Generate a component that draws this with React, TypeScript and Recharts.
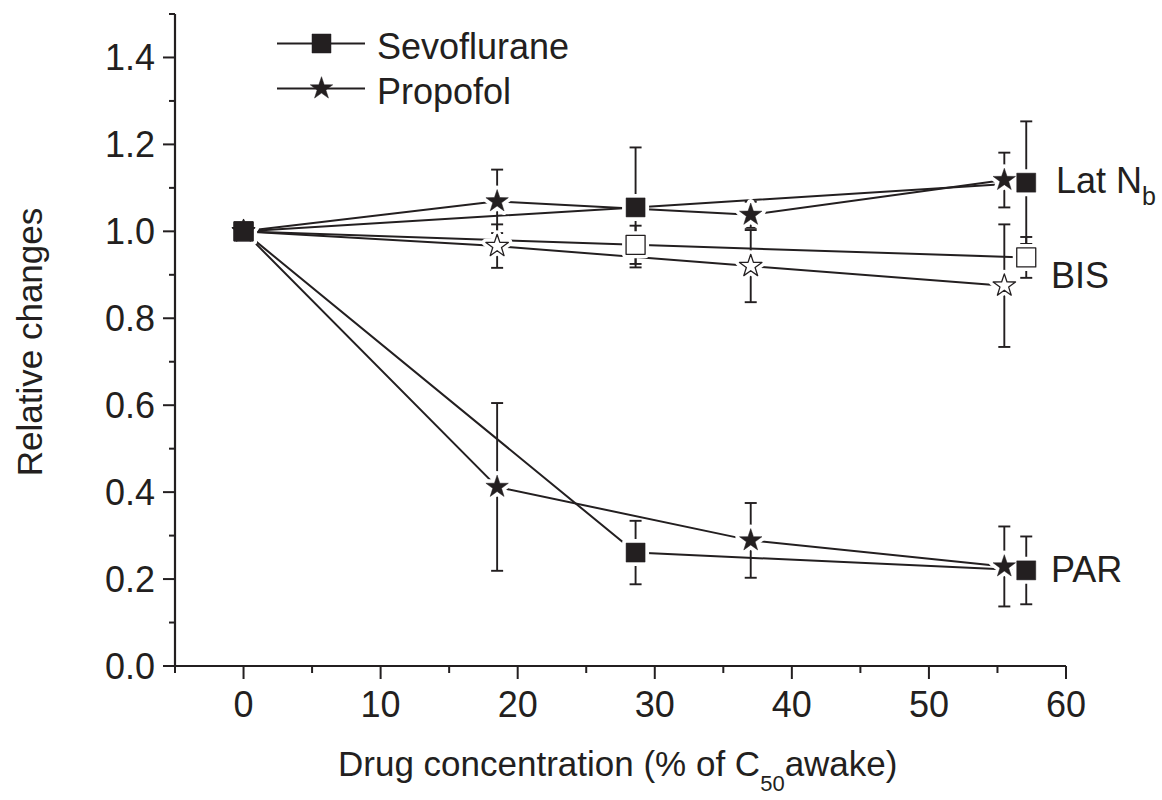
// Relative changes of Lat Nb, BIS and PAR vs drug concentration (Sevoflurane / Propofol)
import React from "react";
import { ComposedChart, Line, XAxis, YAxis, ErrorBar } from "recharts";

const INK = "#231f20";
const FONT = '"Liberation Sans", Arial, Helvetica, sans-serif';

// drug concentration, % of C50 awake
const sevoX = [0, 28.6, 57.1];
const propX = [0, 18.5, 37.0, 55.5];

// sevoflurane means and SDs
const sevoLatNb = [1.0, 1.055, 1.112];
const sevoLatNbSD = [0, 0.138, 0.141];
const sevoBIS = [1.0, 0.969, 0.94];
const sevoBISSD = [0, 0.044, 0.047];
const sevoPAR = [1.0, 0.261, 0.22];
const sevoPARSD = [0, 0.073, 0.078];

// propofol means and SDs
const propLatNb = [1.0, 1.069, 1.038, 1.118];
const propLatNbSD = [0, 0.073, 0.03, 0.063];
const propBIS = [1.0, 0.966, 0.92, 0.875];
const propBISSD = [0, 0.05, 0.083, 0.141];
const propPAR = [1.0, 0.412, 0.289, 0.229];
const propPARSD = [0, 0.193, 0.086, 0.092];

const xTicks = [-5, 0, 5, 10, 15, 20, 25, 30, 35, 40, 45, 50, 55, 60];
const yTicks = [0, 0.1, 0.2, 0.3, 0.4, 0.5, 0.6, 0.7, 0.8, 0.9, 1.0, 1.1, 1.2, 1.3, 1.4, 1.5];

const toPoints = (xs: number[], ys: number[], sd: number[]) =>
  xs.map((x, i) => ({ x, y: ys[i], sd: sd[i] }));

type Kind = "square" | "star";
interface Series {
  id: string;
  kind: Kind;
  filled: boolean;
  data: { x: number; y: number; sd: number }[];
}

const series: Series[] = [
  { id: "propLatNb", kind: "star", filled: true, data: toPoints(propX, propLatNb, propLatNbSD) },
  { id: "propBIS", kind: "star", filled: false, data: toPoints(propX, propBIS, propBISSD) },
  { id: "propPAR", kind: "star", filled: true, data: toPoints(propX, propPAR, propPARSD) },
  { id: "sevoLatNb", kind: "square", filled: true, data: toPoints(sevoX, sevoLatNb, sevoLatNbSD) },
  { id: "sevoBIS", kind: "square", filled: false, data: toPoints(sevoX, sevoBIS, sevoBISSD) },
  { id: "sevoPAR", kind: "square", filled: true, data: toPoints(sevoX, sevoPAR, sevoPARSD) },
];

const starPath = (cx: number, cy: number, R: number, r: number) => {
  let d = "";
  for (let i = 0; i < 10; i++) {
    const a = -Math.PI / 2 + (i * Math.PI) / 5;
    const rad = i % 2 === 0 ? R : r;
    d += (i ? "L" : "M") + (cx + rad * Math.cos(a)).toFixed(2) + "," + (cy + rad * Math.sin(a)).toFixed(2);
  }
  return d + "Z";
};

const Marker = ({ cx, cy, kind, filled, halo }: any) => {
  if (cx == null || cy == null) return null;
  const fill = halo ? "#fff" : filled ? INK : "#fff";
  const stroke = halo ? "#fff" : INK;
  const sw = halo ? 8 : filled ? 0.5 : 1.3;
  if (kind === "square") {
    return (
      <rect x={cx - 9.5} y={cy - 9.5} width={19} height={19} fill={fill} stroke={stroke} strokeWidth={sw} strokeLinejoin="round" />
    );
  }
  return <path d={starPath(cx, cy, 11.8, 4.6)} fill={fill} stroke={stroke} strokeWidth={sw} strokeLinejoin="round" />;
};

const XTick = (props: any) => {
  const { x, y, payload } = props;
  const v = payload.value;
  const major = v % 10 === 0;
  return (
    <g>
      <line x1={x} y1={y} x2={x} y2={y + (major ? 13 : 7)} stroke={INK} strokeWidth={2} />
      {major && (
        <text x={x} y={y + 51} textAnchor="middle" fontFamily={FONT} fontSize={36} fill={INK}>
          {v}
        </text>
      )}
    </g>
  );
};

const YTick = (props: any) => {
  const { x, y, payload } = props;
  const v = payload.value;
  const major = Math.round(v * 10) % 2 === 0;
  return (
    <g>
      <line x1={x} y1={y} x2={x - (major ? 12 : 6)} y2={y} stroke={INK} strokeWidth={2} />
      {major && (
        <text x={x - 20} y={y + 13} textAnchor="end" fontFamily={FONT} fontSize={36} fill={INK}>
          {v.toFixed(1)}
        </text>
      )}
    </g>
  );
};

const LegendRow = ({ y, kind, label }: { y: number; kind: Kind; label: string }) => (
  <g>
    <line x1={277} y1={y} x2={365} y2={y} stroke={INK} strokeWidth={2} />
    <Marker cx={321.5} cy={y} kind={kind} filled halo={false} />
    <text x={377} y={y + 15} fontFamily={FONT} fontSize={36} fill={INK}>
      {label}
    </text>
  </g>
);

export default function App() {
  return (
    <div style={{ position: "absolute", left: 0, top: 0, width: 1162, height: 800, background: "#fff" }}>
      <ComposedChart width={1162} height={800} margin={{ top: 14, right: 96, bottom: 0, left: 0 }}>
        <XAxis
          type="number"
          dataKey="x"
          domain={[-5, 60]}
          ticks={xTicks}
          interval={0}
          height={134}
          tickSize={0}
          tickMargin={0}
          tickLine={false}
          tick={<XTick />}
          axisLine={{ stroke: INK, strokeWidth: 2.2 }}
          allowDuplicatedCategory={false}
        />
        <YAxis
          type="number"
          domain={[0, 1.5]}
          ticks={yTicks}
          interval={0}
          width={175}
          tickSize={0}
          tickMargin={0}
          tickLine={false}
          tick={<YTick />}
          axisLine={{ stroke: INK, strokeWidth: 2.2 }}
        />
        {series.map((s) => (
          <Line
            key={`line-${s.id}`}
            data={s.data}
            dataKey="y"
            type="linear"
            stroke={INK}
            strokeWidth={2}
            dot={false}
            activeDot={false}
            isAnimationActive={false}
          >
            <ErrorBar dataKey="sd" width={6} stroke={INK} strokeWidth={1.9} />
          </Line>
        ))}
        {series.map((s) => (
          <Line
            key={`halo-${s.id}`}
            data={s.data}
            dataKey="y"
            stroke="none"
            activeDot={false}
            isAnimationActive={false}
            dot={(p: any) => (
              <Marker key={`h-${s.id}-${p.index}`} cx={p.cx} cy={p.cy} kind={s.kind} filled={s.filled} halo />
            )}
          />
        ))}
        {series.map((s) => (
          <Line
            key={`mark-${s.id}`}
            data={s.data}
            dataKey="y"
            stroke="none"
            activeDot={false}
            isAnimationActive={false}
            dot={(p: any) => (
              <Marker key={`m-${s.id}-${p.index}`} cx={p.cx} cy={p.cy} kind={s.kind} filled={s.filled} halo={false} />
            )}
          />
        ))}
      </ComposedChart>
      <svg
        width={1162}
        height={800}
        style={{ position: "absolute", left: 0, top: 0, pointerEvents: "none" }}
      >
        <LegendRow y={43.5} kind="square" label="Sevoflurane" />
        <LegendRow y={88.5} kind="star" label="Propofol" />
        <text x={1056} y={193} fontFamily={FONT} fontSize={36} fill={INK}>
          Lat N
          <tspan fontSize={25} dy={12}>b</tspan>
        </text>
        <text x={1051} y={288} fontFamily={FONT} fontSize={36} fill={INK}>
          BIS
        </text>
        <text x={1051} y={582} fontFamily={FONT} fontSize={36} fill={INK}>
          PAR
        </text>
        <text
          transform="translate(42,342) rotate(-90)"
          textAnchor="middle"
          fontFamily={FONT}
          fontSize={35}
          fill={INK}
        >
          Relative changes
        </text>
        <text x={338} y={776} fontFamily={FONT} fontSize={35} fill={INK}>
          Drug concentration (% of C
          <tspan fontSize={22} dy={15}>50</tspan>
          <tspan dy={-15}>awake)</tspan>
        </text>
      </svg>
    </div>
  );
}
